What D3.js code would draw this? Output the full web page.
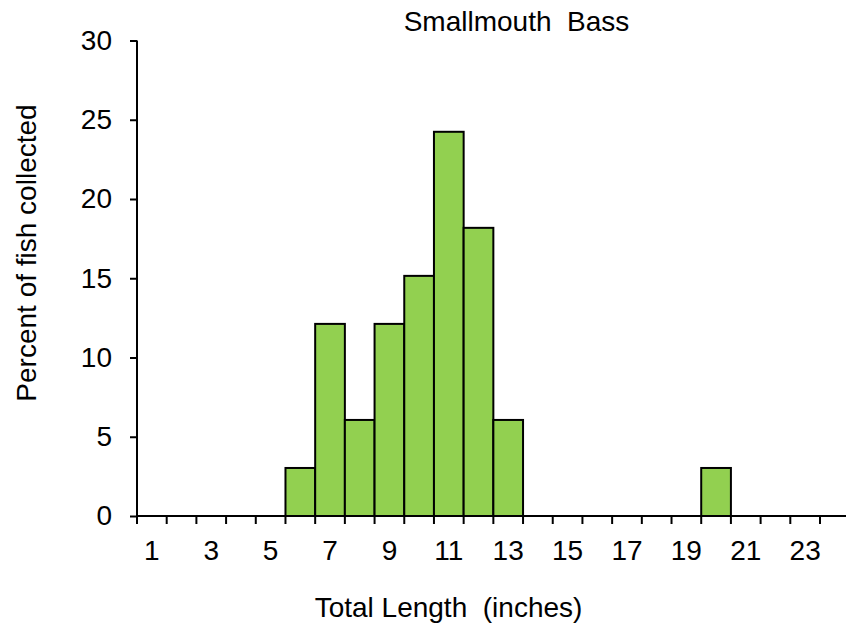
<!DOCTYPE html>
<html><head><meta charset="utf-8">
<script src="https://cdn.jsdelivr.net/npm/d3@7"></script>
<style>
html,body{margin:0;padding:0;background:#fff;}
svg text{font-family:"Liberation Sans",Arial,sans-serif;fill:#000;}
</style></head>
<body><svg id="c" width="846" height="626"></svg>
<script>
const categories = d3.range(1, 24).map(String);
const percentValues = [0,0,0,0,0,3.03,12.12,6.06,12.12,15.15,24.24,18.18,6.06,0,0,0,0,0,0,3.03,0,0,0];
const xTickLabels = ["1","3","5","7","9","11","13","15","17","19","21","23"];
const yTicks = [0,5,10,15,20,25,30];
const titleText = "Smallmouth  Bass";
const xTitle = "Total Length  (inches)";
const yTitle = "Percent of fish collected";

const svg = d3.select("#c");
const L = 137, R = 820, T = 40.5, B = 516;
const fs = 28;

const x = d3.scaleBand().domain(categories).range([L, R]).paddingInner(0).paddingOuter(0);
const y = d3.scaleLinear().domain([0, 30]).range([B, T]);

// bars
svg.append("g").selectAll("rect")
  .data(categories.map((c, i) => ({c, v: percentValues[i]})).filter(d => d.v > 0))
  .join("rect")
  .attr("x", d => x(d.c))
  .attr("y", d => y(d.v))
  .attr("width", x.bandwidth())
  .attr("height", d => y(0) - y(d.v))
  .attr("fill", "#92D050")
  .attr("stroke", "#000")
  .attr("stroke-width", 2);

// y axis
const yAxis = svg.append("g").attr("transform", `translate(${L},0)`)
  .call(d3.axisLeft(y).tickValues(yTicks).tickSize(7).tickPadding(18).tickSizeOuter(0));
yAxis.select(".domain").attr("stroke", "#000").attr("stroke-width", 2).attr("d", `M0,${T}V${B + 8}`);
yAxis.selectAll(".tick line").attr("stroke", "#000").attr("stroke-width", 2);
yAxis.selectAll(".tick text").style("font-size", fs + "px").attr("font-family", null);

// x axis line and boundary ticks
const gx = svg.append("g");
gx.append("line").attr("x1", L).attr("x2", 846).attr("y1", B).attr("y2", B)
  .attr("stroke", "#000").attr("stroke-width", 2);
const bounds = categories.map(c => x(c)).concat([x(categories[categories.length - 1]) + x.bandwidth()]);
gx.selectAll("line.tk").data(bounds).join("line").attr("class", "tk")
  .attr("x1", d => d).attr("x2", d => d).attr("y1", B).attr("y2", B + 8)
  .attr("stroke", "#000").attr("stroke-width", 2);

// x labels
const xAxis = svg.append("g").attr("transform", `translate(0,${B})`)
  .call(d3.axisBottom(x).tickValues(xTickLabels).tickSize(0).tickPadding(24));
xAxis.select(".domain").remove();
xAxis.selectAll(".tick text").style("font-size", fs + "px").attr("font-family", null);

// titles
svg.append("text").attr("x", 516.5).attr("y", 31).attr("text-anchor", "middle")
  .style("font-size", fs + "px").style("white-space", "pre").text(titleText);
svg.append("text").attr("x", 448.5).attr("y", 617).attr("text-anchor", "middle")
  .style("font-size", fs + "px").style("white-space", "pre").text(xTitle);
svg.append("text").attr("transform", "translate(36,253) rotate(-90)").attr("text-anchor", "middle")
  .style("font-size", fs + "px").text(yTitle);
</script></body></html>
